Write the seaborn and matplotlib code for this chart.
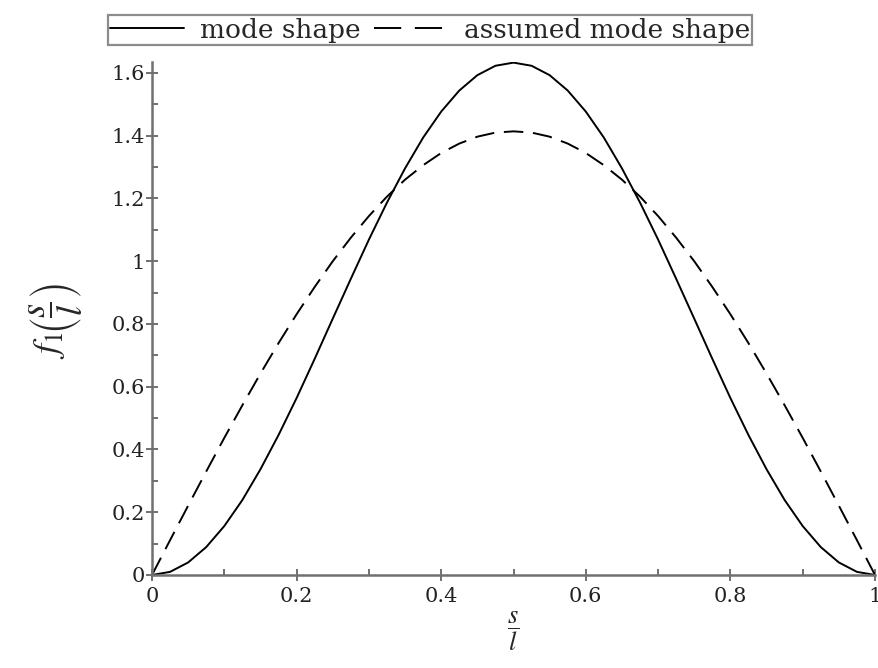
import numpy as np
import pandas as pd
import matplotlib
matplotlib.use("Agg")
import matplotlib.pyplot as plt
import seaborn as sns
from matplotlib.ticker import FixedLocator, FixedFormatter, MultipleLocator
from matplotlib.lines import Line2D

# values (x = s/l)
x_vals = [0.0, 0.025, 0.05, 0.075, 0.1, 0.125, 0.15, 0.175, 0.2, 0.225, 0.25,
          0.275, 0.3, 0.325, 0.35, 0.375, 0.4, 0.425, 0.45, 0.475, 0.5,
          0.525, 0.55, 0.575, 0.6, 0.625, 0.65, 0.675, 0.7, 0.725, 0.75,
          0.775, 0.8, 0.825, 0.85, 0.875, 0.9, 0.925, 0.95, 0.975, 1.0]
mode_shape = [0.0, 0.010, 0.040, 0.089, 0.156, 0.239, 0.337, 0.446, 0.564, 0.689, 0.817,
              0.944, 1.069, 1.187, 1.296, 1.394, 1.477, 1.544, 1.593, 1.623, 1.633,
              1.623, 1.593, 1.544, 1.477, 1.394, 1.296, 1.187, 1.069, 0.944, 0.817,
              0.689, 0.564, 0.446, 0.337, 0.239, 0.156, 0.089, 0.040, 0.010, 0.0]
assumed_shape = [0.0, 0.111, 0.221, 0.330, 0.437, 0.541, 0.642, 0.739, 0.831, 0.918, 1.000,
                 1.075, 1.144, 1.206, 1.260, 1.306, 1.345, 1.375, 1.397, 1.410, 1.414,
                 1.410, 1.397, 1.375, 1.345, 1.306, 1.260, 1.206, 1.144, 1.075, 1.000,
                 0.918, 0.831, 0.739, 0.642, 0.541, 0.437, 0.330, 0.221, 0.111, 0.0]
series_names = ["mode shape", "assumed mode shape"]
x_ticks = [0, 0.2, 0.4, 0.6, 0.8, 1]
x_tick_labels = ["0", "0.2", "0.4", "0.6", "0.8", "1"]
y_ticks = [0, 0.2, 0.4, 0.6, 0.8, 1, 1.2, 1.4, 1.6]
y_tick_labels = ["0", "0.2", "0.4", "0.6", "0.8", "1", "1.2", "1.4", "1.6"]

df = pd.DataFrame({
    "x": x_vals * 2,
    "y": mode_shape + assumed_shape,
    "series": [series_names[0]] * len(x_vals) + [series_names[1]] * len(x_vals),
})

sns.set_style("white")
plt.rcParams["font.family"] = ["DejaVu Serif", "Liberation Serif"]
plt.rcParams["mathtext.fontset"] = "stix"

fig = plt.figure(figsize=(8.79, 6.68), dpi=100)
ax = fig.add_axes([152 / 879, 1 - 575 / 668, (875 - 152) / 879, (575 - 62) / 668])

sns.lineplot(data=df, x="x", y="y", hue="series", style="series",
             palette=["black", "black"], dashes=[(None, None), (10, 5)],
             sort=False, estimator=None, linewidth=1.4, ax=ax, legend=False)
ax.lines[0].set_linestyle("-")
ax.lines[1].set_dashes((10, 5))

ax.set_xlim(0, 1)
ax.set_ylim(0, 1.635)
for s in ["top", "right"]:
    ax.spines[s].set_visible(False)
for s in ["left", "bottom"]:
    ax.spines[s].set_color("#707070")
    ax.spines[s].set_linewidth(1.8)

ax.xaxis.set_major_locator(FixedLocator(x_ticks))
ax.xaxis.set_major_formatter(FixedFormatter(x_tick_labels))
ax.yaxis.set_major_locator(FixedLocator(y_ticks))
ax.yaxis.set_major_formatter(FixedFormatter(y_tick_labels))
ax.xaxis.set_minor_locator(MultipleLocator(0.1))
ax.yaxis.set_minor_locator(MultipleLocator(0.1))
ax.tick_params(which="major", direction="inout", length=8, width=1.4, color="#707070",
               labelsize=15, labelcolor="#222222", bottom=True, left=True, pad=1)
ax.tick_params(which="minor", direction="in", length=4, width=1.4, color="#707070",
               bottom=True, left=True)
ax.tick_params(axis="x", which="major", pad=5)

ax.set_xlabel(r"$\dfrac{s}{l}$", fontsize=19, labelpad=2)
ax.set_ylabel(r"$f_1\!\left(\dfrac{s}{l}\right)$", fontsize=26)
ax.yaxis.set_label_coords(-0.093, 0.495)

handles = [Line2D([], [], color="black", lw=1.4, linestyle="-"),
           Line2D([], [], color="black", lw=1.4, dashes=(14, 7))]
leg = fig.legend(handles, series_names, loc="upper center",
                 bbox_to_anchor=(430 / 879, 1 - 15 / 668), ncol=2,
                 fontsize=19, frameon=True, fancybox=False, handlelength=2.8,
                 columnspacing=0.5, handletextpad=0.6, borderpad=0.1,
                 borderaxespad=0)
leg.get_frame().set_edgecolor("#707070")
leg.get_frame().set_linewidth(1.6)

fig.savefig("out.png", dpi=100)
